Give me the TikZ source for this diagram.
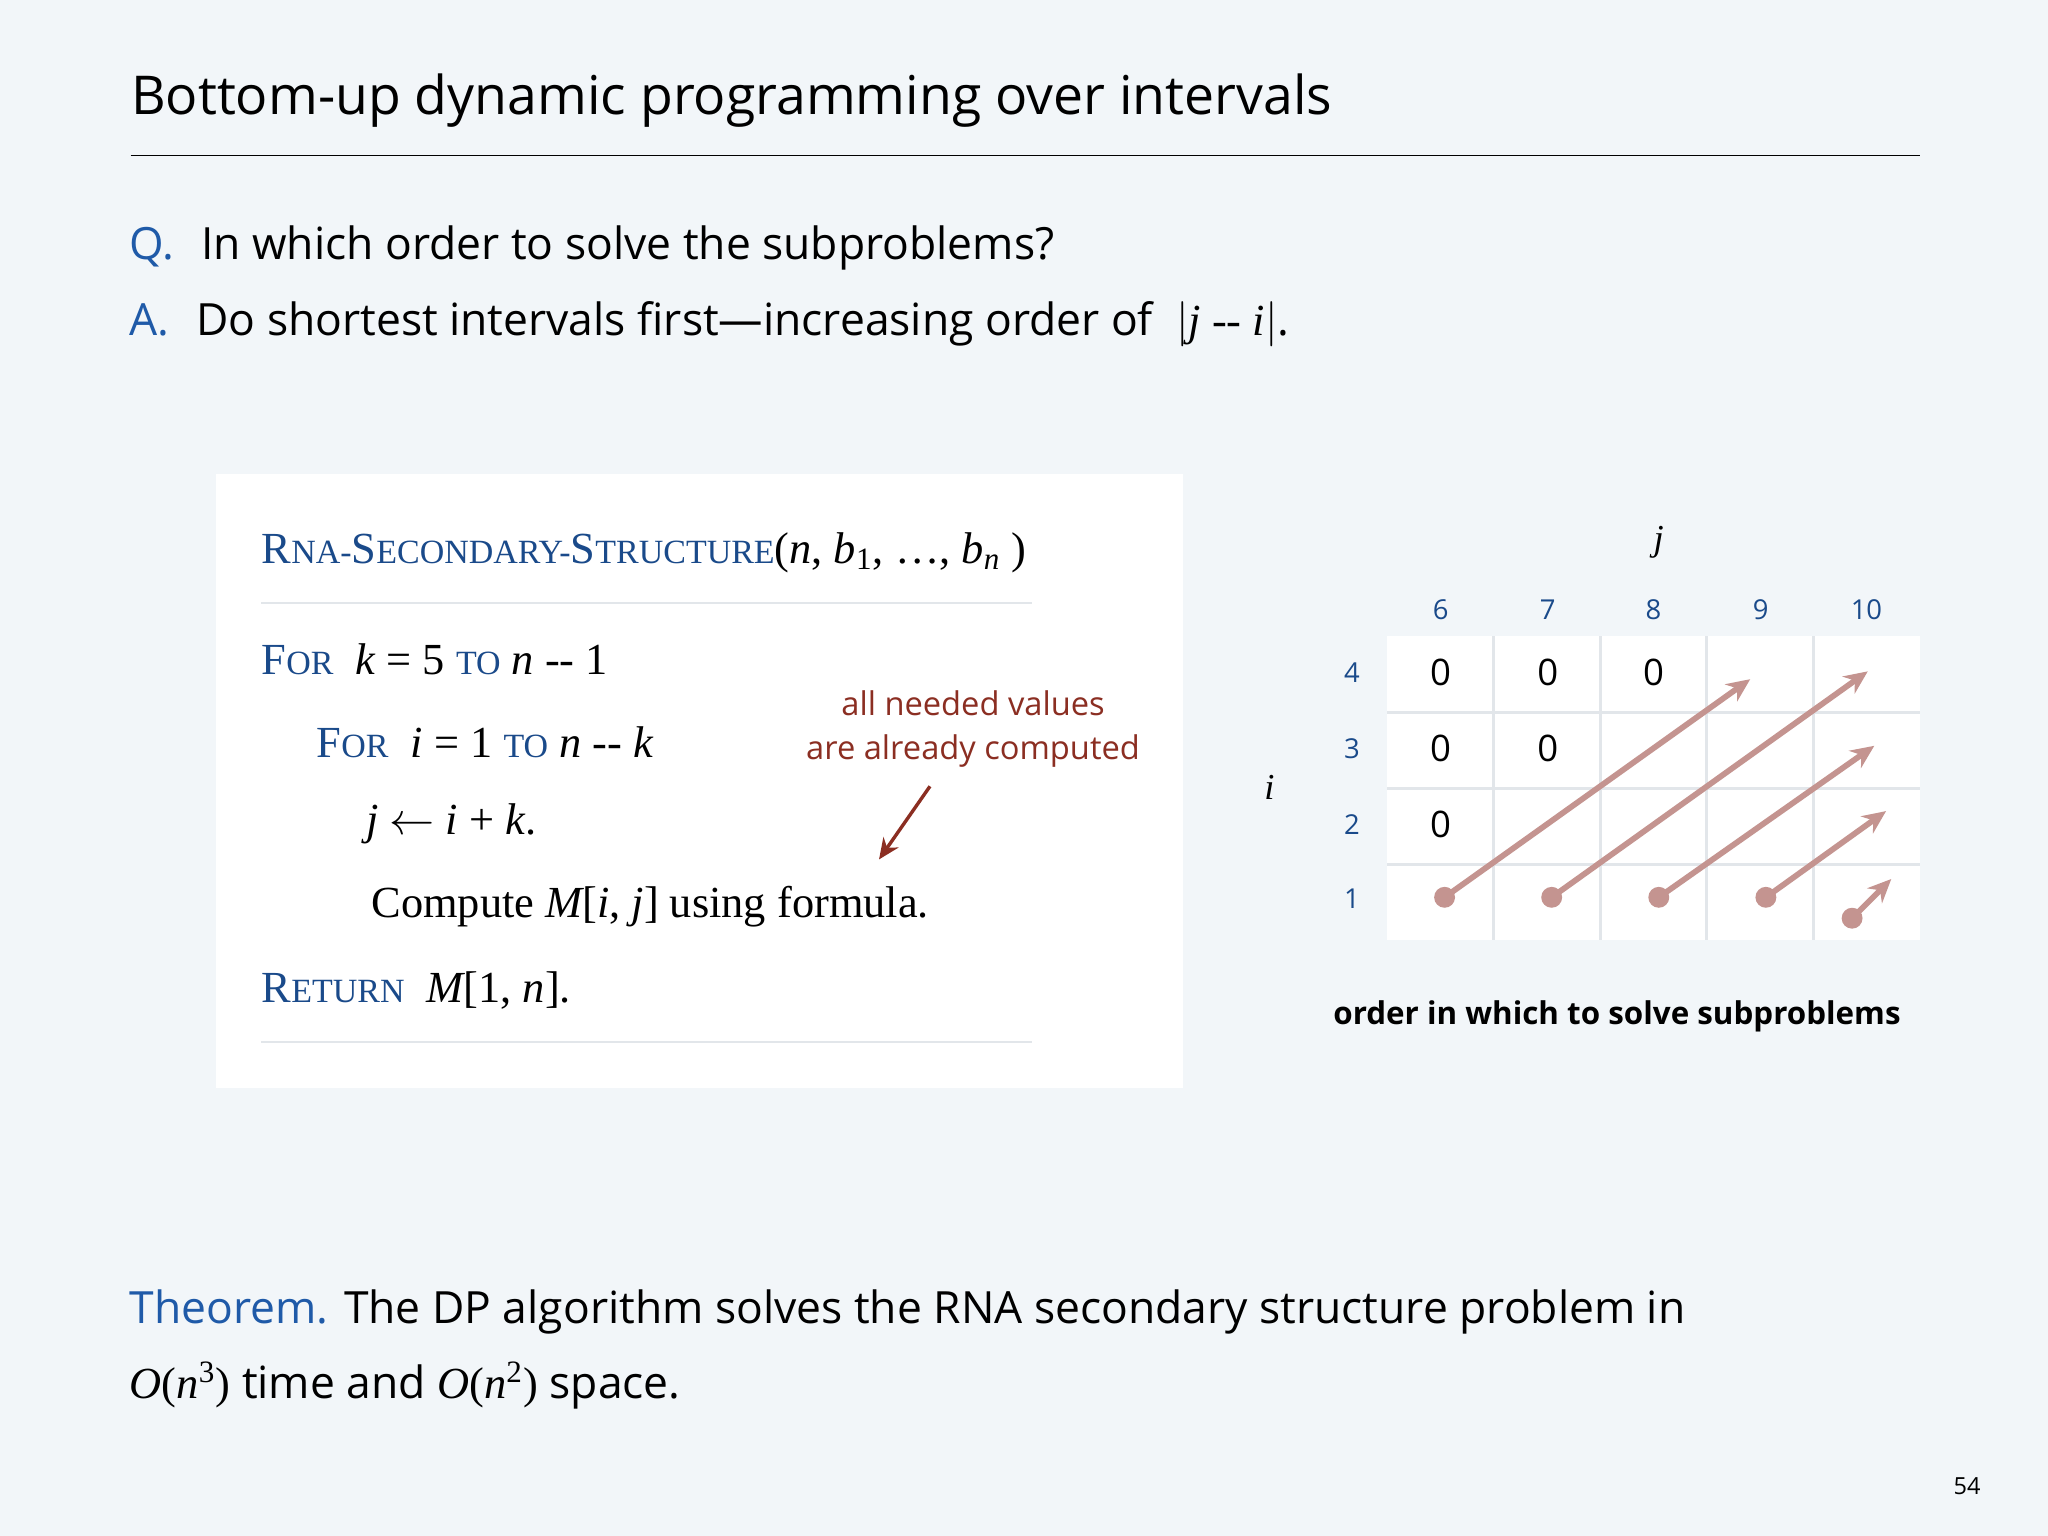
\documentclass[tikz,border=0pt]{standalone}
\usetikzlibrary{arrows.meta}
\usepackage{fontspec}
\setmainfont{Open Sans}
\newfontfamily\ser{Liberation Serif}
\definecolor{bg}{HTML}{F2F6F9}
\definecolor{qblue}{HTML}{1F5AA8}
\definecolor{kw}{HTML}{1A4A8A}
\definecolor{red1}{HTML}{8B2E22}
\definecolor{arr}{HTML}{C49490}
\definecolor{gridl}{HTML}{E2E6EA}
\newcommand{\kwd}[1]{{\ser\color{kw}#1}}
\newcommand{\mi}[1]{{\ser\itshape #1}}
\begin{document}
\begin{tikzpicture}[x=0.5pt,y=-0.5pt,
  txt/.style={anchor=base west,inner sep=0},
  code/.style={anchor=west,inner sep=0,font=\ser\fontsize{17}{20}\selectfont},
  lab/.style={font=\fontsize{10.5}{12}\selectfont,text=kw},
  sarrow/.style={draw=arr,line width=2.2pt,-{Stealth[length=9pt,width=8pt]}},
  dot/.style={circle,fill=arr,inner sep=0,minimum size=8pt}]
\fill[bg] (0,0) rectangle (1568,1176);
\useasboundingbox (0,0) rectangle (1568,1176);
\node[txt,font=\fontsize{20.5}{24}\selectfont] (title) at (100,88) {Bottom-up dynamic programming over intervals};
\draw[line width=0.7pt] (100,119) -- (1470,119);
\node[txt,font=\fontsize{17}{20}\selectfont] (q) at (99,199) {\textcolor{qblue}{Q.}\hspace{0.6em}In which order to solve the subproblems?};
\node[txt,font=\fontsize{17}{20}\selectfont] (a) at (99,257) {\textcolor{qblue}{A.}\hspace{0.6em}Do shortest intervals first---increasing order of \ {\ser$|$\mi{j} -- \mi{i}$|$}.};
% code box
\fill[white] (165,363) rectangle (906,833);
\draw[gridl,line width=0.8pt] (200,462) -- (790,462) (200,798) -- (790,798);
\node[code] (c0) at (200,423) {\kwd{R\fontsize{13}{15}\selectfont NA-\fontsize{17}{20}\selectfont S\fontsize{13}{15}\selectfont ECONDARY-\fontsize{17}{20}\selectfont S\fontsize{13}{15}\selectfont TRUCTURE}(\mi{n}, \mi{b}\textsubscript{1}, \dots, \mi{b}\textsubscript{\mi{n}} )};
\node[code] (c1) at (200,505) {\kwd{F\fontsize{13}{15}\selectfont OR}\ \ \mi{k} = 5 \kwd{\fontsize{13}{15}\selectfont TO} \mi{n} -- 1};
\node[code] (c2) at (242,568) {\kwd{F\fontsize{13}{15}\selectfont OR}\ \ \mi{i} = 1 \kwd{\fontsize{13}{15}\selectfont TO} \mi{n} -- \mi{k}};
\node[code] (c3) at (280,631) {\mi{j} $\leftarrow$ \mi{i} + \mi{k}.};
\node[code] (c4) at (284,694) {Compute \mi{M}[\mi{i}, \mi{j}] using formula.};
\node[code] (c5) at (200,758) {\kwd{R\fontsize{13}{15}\selectfont ETURN}\ \ \mi{M}[1, \mi{n}].};
\node[align=center,text=red1,font=\fontsize{12.5}{17}\selectfont] (note) at (745,558) {all needed values\\are already computed};
\coordinate (na) at (712,602); \coordinate (nb) at (673,658);
\draw[red1,line width=1.3pt,-{Stealth[length=8pt,width=7pt]}] (na) -- (nb);
% grid
\fill[white] (1062,487) rectangle (1470,720);
\foreach \k in {1,...,4} \draw[gridl,line width=1.2pt] ({1062+\k*81.6},487) -- ({1062+\k*81.6},720);
\foreach \k in {1,...,3} \draw[gridl,line width=1.2pt] (1062,{487+\k*58.25}) -- (1470,{487+\k*58.25});
\foreach \c/\x in {6/1103,7/1185,8/1266,9/1348,10/1429} \node[lab] (col\c) at (\x,467) {\c};
\foreach \r/\y in {4/515,3/573,2/631,1/688} \node[lab] (row\r) at (1035,\y) {\r};
\node[font=\ser\itshape\fontsize{14}{16}\selectfont] (jl) at (1270,415) {j};
\node[font=\ser\itshape\fontsize{14}{16}\selectfont] (il) at (972,603) {i};
\foreach \x/\y/\n in {1103/515/a,1185/515/b,1266/515/c,1103/573/d,1185/573/e,1103/631/f}
  \node[font=\fontsize{14}{16}\selectfont] (z\n) at (\x,\y) {0};
\node[dot] (d1) at (1106,687) {}; \coordinate (e1) at (1340,520);
\node[dot] (d2) at (1188,687) {}; \coordinate (e2) at (1430,514);
\node[dot] (d3) at (1270,687) {}; \coordinate (e3) at (1435,571);
\node[dot] (d4) at (1352,687) {}; \coordinate (e4) at (1444,621);
\node[dot] (d5) at (1418,703) {}; \coordinate (e5) at (1448,673);
\foreach \k in {1,...,5} \draw[sarrow] (d\k.center) -- (e\k);
\node[font=\bfseries\fontsize{12}{14}\selectfont] (cap) at (1238,778) {order in which to solve subproblems};
% theorem
\node[txt,font=\fontsize{17}{20}\selectfont] (t1) at (99,1013) {\textcolor{qblue}{Theorem.} The DP algorithm solves the RNA secondary structure problem in};
\node[txt,font=\fontsize{17}{20}\selectfont] (t2) at (99,1071) {{\ser\mi{O}(\mi{n}\textsuperscript{3})} time and {\ser\mi{O}(\mi{n}\textsuperscript{2})} space.};
\node[font=\fontsize{9}{11}\selectfont] (pg) at (1506,1138) {54};
\end{tikzpicture}
\end{document}
